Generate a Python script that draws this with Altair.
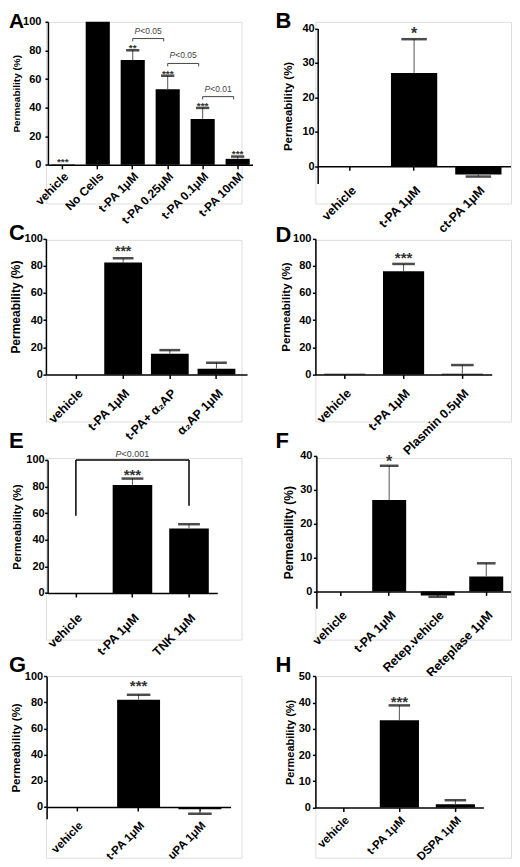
import altair as alt
import pandas as pd

FONT = "Liberation Sans"

# ---- values (mean, SEM, significance marks) ----
A_CATS = ["vehicle", "No Cells", "t-PA 1μM", "t-PA 0.25μM", "t-PA 0.1μM", "t-PA 10nM"]
A_MEAN = [0.3, 100, 73.3, 52.8, 32.1, 4.2]
A_SEM = [0, 0, 6.9, 9.5, 7.7, 1.6]
A_STARS = ["***", "", "**", "***", "***", "***"]
A_P_TEXT = ["<0.05", "<0.05", "<0.01"]
A_P_FROM = ["t-PA 1μM", "t-PA 0.25μM", "t-PA 0.1μM"]
A_P_TO = ["t-PA 0.25μM", "t-PA 0.1μM", "t-PA 10nM"]
A_P_LEVEL = [88.3, 70.9, 47.7]

B_CATS = ["vehicle", "t-PA 1μM", "ct-PA 1μM"]
B_MEAN = [0, 27.1, -2.4]
B_SEM = [0, 9.8, 0.6]
B_STARS = ["", "*", ""]

C_CATS = ["vehicle", "t-PA 1μM", "t-PA+ α₂AP", "α₂AP 1μM"]
C_MEAN = [0, 82.5, 15.2, 4.2]
C_SEM = [0, 3.0, 2.7, 4.4]
C_STARS = ["", "***", "", ""]

D_CATS = ["vehicle", "t-PA 1μM", "Plasmin 0.5μM"]
D_MEAN = [0.5, 76, 0.5]
D_SEM = [0, 5.4, 6.4]
D_STARS = ["", "***", ""]

E_CATS = ["vehicle", "t-PA 1μM", "TNK 1μM"]
E_MEAN = [0, 81.2, 48.5]
E_SEM = [0, 4.8, 3.2]
E_STARS = ["", "***", ""]
E_P_TEXT = ["<0.001"]
E_P_FROM = ["vehicle"]
E_P_TO = ["TNK 1μM"]
E_P_LEVEL = [100]
E_P_LEGS = [58, 65.5]

F_CATS = ["vehicle", "t-PA 1μM", "Retep.vehicle", "Reteplase 1μM"]
F_MEAN = [0, 27.0, -1.2, 4.4]
F_SEM = [0, 10.1, 0.4, 3.9]
F_STARS = ["", "*", "", ""]

G_CATS = ["vehicle", "t-PA 1μM", "uPA 1μM"]
G_MEAN = [0, 82, -1.8]
G_SEM = [0, 3.8, 3.3]
G_STARS = ["", "***", ""]

H_CATS = ["vehicle", "t-PA 1μM", "DSPA 1μM"]
H_MEAN = [0, 33.2, 1.3]
H_SEM = [0, 5.7, 1.5]
H_STARS = ["", "***", ""]

TICKS_100 = [0, 20, 40, 60, 80, 100]
TICKS_40 = [0, 10, 20, 30, 40]
TICKS_50 = [0, 10, 20, 30, 40, 50]

# ---- layout, in page pixels ----
COL_X = [45, 315]
ROW_Y = [20, 238.5, 457, 673.5]
W, H = 196, 182

LAYOUT = {
    "A": dict(col=0, row=0, axis_x=47, x_end=252, top=20, zero=163.3, pin=0.31, pout=0.08,
              lab_gap=5, lab_size=12, ylab_pad=4, title_gap=32, title_size=10,
              star_size=10, star_dy=0.8, letter=(8, 9), letter_size=21),
    "B": dict(col=1, row=0, axis_x=317.3, x_end=510.5, top=26.7, zero=164.7, pin=0.28, pout=0.14,
              lab_gap=17, lab_size=12.5, ylab_pad=0.5, title_gap=30.6, title_size=11.5,
              star_size=16, star_dy=0.2, letter=(275, 9), letter_size=22),
    "C": dict(col=0, row=1, axis_x=45, x_end=246.5, top=237.3, zero=373.3, pin=0.19, pout=0.25,
              lab_gap=11.7, lab_size=12.5, ylab_pad=0.5, title_gap=30, title_size=12,
              star_size=14, star_dy=-2, letter=(8, 222), letter_size=22),
    "D": dict(col=1, row=1, axis_x=315, x_end=491.7, top=237.3, zero=373.3, pin=0.3, pout=0.15,
              lab_gap=11.7, lab_size=12.5, ylab_pad=1.5, title_gap=30, title_size=11.5,
              star_size=15, star_dy=-0.8, letter=(275, 223.5), letter_size=22),
    "E": dict(col=0, row=2, axis_x=46.7, x_end=216.7, top=459, zero=592.3, pin=0.3, pout=0.15,
              lab_gap=17.7, lab_size=12.5, ylab_pad=0.5, title_gap=31.7, title_size=11,
              star_size=15, star_dy=1.6, letter=(8, 430.5), letter_size=22),
    "F": dict(col=1, row=2, axis_x=316, x_end=510.5, top=455, zero=590.7, pin=0.3, pout=0.15,
              lab_gap=16.6, lab_size=12.5, ylab_pad=1.5, title_gap=27.7, title_size=12,
              star_size=16, star_dy=0.9, letter=(275, 430.5), letter_size=22),
    "G": dict(col=0, row=3, axis_x=45.7, x_end=230, top=673.7, zero=804.7, pin=0.3, pout=0.15,
              lab_gap=12, lab_size=11.5, ylab_pad=1, title_gap=32, title_size=11.5,
              star_size=15, star_dy=-3.4, letter=(8, 652), letter_size=22),
    "H": dict(col=1, row=3, axis_x=315, x_end=483.3, top=673.7, zero=805.3, pin=0.3, pout=0.15,
              lab_gap=6, lab_size=11.5, ylab_pad=2, title_gap=26.7, title_size=11,
              star_size=15, star_dy=1.3, letter=(275, 652), letter_size=22),
}


def panel(key, cats, mean, sem, stars, ticks, domain, extra=None):
    L = LAYOUT[key]
    gx, gy = COL_X[L["col"]], ROW_Y[L["row"]]
    top = L["top"] - gy
    zero = L["zero"] - gy
    bottom = zero - domain[0] * (zero - top) / domain[1]
    x0, x1 = L["axis_x"] - gx, L["x_end"] - gx
    step = (x1 - x0) / (len(cats) - L["pin"] + 2 * L["pout"])
    bw = step * (1 - L["pin"])

    xs = alt.Scale(domain=cats, range=[x0, x1], paddingInner=L["pin"], paddingOuter=L["pout"])
    ys = alt.Scale(domain=domain, range=[bottom, top], nice=False, zero=False)
    xa = alt.Axis(title=None, labelAngle=-45, labelFontSize=L["lab_size"],
                  labelFontWeight="bold", labelFont=FONT, labelColor="black", tickSize=4,
                  tickWidth=1.5, tickColor="black", domainWidth=1.5, domainColor="black",
                  labelPadding=L["lab_gap"] - 3.5, offset=zero - H, grid=False)
    ya = alt.Axis(values=ticks, title="Permeability (%)", titleFont=FONT,
                  titleFontSize=L["title_size"], titleFontWeight="bold", titleColor="black",
                  titleX=-L["title_gap"] + 0.57 * L["title_size"],
                  labelFont=FONT, labelFontSize=11, labelFontWeight="bold", labelColor="black",
                  tickSize=3, tickWidth=1.5, tickColor="black", labelPadding=L["ylab_pad"],
                  domainWidth=1.5, domainColor="black", offset=-x0, grid=False)

    def X(field, **kw):
        return alt.X(field, type="nominal", scale=xs, axis=xa, sort=cats, **kw)

    def Y(field):
        return alt.Y(field, type="quantitative", scale=ys, axis=ya)

    df = pd.DataFrame({"cat": cats, "mean": mean, "sem": sem, "star": stars})
    df["end"] = [m - s if m < 0 else m + s for m, s in zip(mean, sem)]
    df["base"] = 0
    err = df[df["sem"] > 0]

    bars = alt.Chart(df).mark_bar(color="black").encode(X("cat"), Y("mean"), y2="base")
    rule = alt.Chart(err).mark_rule(color="#555", strokeWidth=1).encode(X("cat"), Y("mean"), y2="end")
    cap = alt.Chart(err).mark_tick(color="black", thickness=2.5, size=0.55 * bw).encode(X("cat"), Y("end"))
    star = alt.Chart(df).mark_text(baseline="alphabetic", dy=L["star_dy"], fontSize=L["star_size"],
                                   fontWeight="bold", color="#333", font=FONT).encode(
        X("cat"), Y("end"), text="star")
    lx, ly = L["letter"]
    letter = alt.Chart(pd.DataFrame({"t": [key]})).mark_text(
        align="left", baseline="top", fontSize=L["letter_size"], fontWeight="bold",
        color="black", font=FONT
    ).encode(x=alt.value(lx - gx), y=alt.value(ly - gy), text="t")

    layers = [bars, rule, cap, star, letter]
    if extra is not None:
        layers += extra(step, X, Y)
    return alt.layer(*layers).properties(width=W, height=H)


def a_brackets(step, X, Y):
    pdf = pd.DataFrame({"from": A_P_FROM, "to": A_P_TO, "level": A_P_LEVEL, "txt": A_P_TEXT})
    pdf["low"] = pdf["level"] - 2
    pdf["P"] = "P"
    split = (step - 4) / 2 - 8
    return [
        alt.Chart(pdf).mark_rule(color="#444", strokeWidth=1, x2Offset=-4).encode(
            X("from", bandPosition=0.5), alt.X2("to", bandPosition=0.5), Y("level")),
        alt.Chart(pdf).mark_rule(color="#444", strokeWidth=1).encode(X("from"), Y("level"), y2="low"),
        alt.Chart(pdf).mark_rule(color="#444", strokeWidth=1, xOffset=-4).encode(X("to"), Y("level"), y2="low"),
        alt.Chart(pdf).mark_text(align="right", baseline="alphabetic", dx=split, dy=-5, fontSize=8.5,
                                 fontStyle="italic", color="#444", font=FONT).encode(X("from"), Y("level"), text="P"),
        alt.Chart(pdf).mark_text(align="left", baseline="alphabetic", dx=split, dy=-5, fontSize=8.5,
                                 color="#444", font=FONT).encode(X("from"), Y("level"), text="txt"),
    ]


def e_brackets(step, X, Y):
    pdf = pd.DataFrame({"from": E_P_FROM, "to": E_P_TO, "level": E_P_LEVEL, "txt": E_P_TEXT})
    pdf["P"] = "P"
    legs = pd.DataFrame({"cat": E_P_FROM + E_P_TO, "level": E_P_LEVEL * 2, "low": E_P_LEGS})
    split = step - 10.9
    return [
        alt.Chart(pdf).mark_rule(color="black", strokeWidth=1.5).encode(
            X("from", bandPosition=0.5), alt.X2("to", bandPosition=0.5), Y("level")),
        alt.Chart(legs).mark_rule(color="black", strokeWidth=1.5).encode(X("cat"), Y("level"), y2="low"),
        alt.Chart(pdf).mark_text(align="right", baseline="alphabetic", dx=split, dy=-2.5, fontSize=9,
                                 fontStyle="italic", color="#444", font=FONT).encode(X("from"), Y("level"), text="P"),
        alt.Chart(pdf).mark_text(align="left", baseline="alphabetic", dx=split, dy=-2.5, fontSize=9,
                                 color="#444", font=FONT).encode(X("from"), Y("level"), text="txt"),
    ]


panels = [
    panel("A", A_CATS, A_MEAN, A_SEM, A_STARS, TICKS_100, [0, 100], a_brackets),
    panel("B", B_CATS, B_MEAN, B_SEM, B_STARS, TICKS_40, [-5, 40]),
    panel("C", C_CATS, C_MEAN, C_SEM, C_STARS, TICKS_100, [0, 100]),
    panel("D", D_CATS, D_MEAN, D_SEM, D_STARS, TICKS_100, [0, 100]),
    panel("E", E_CATS, E_MEAN, E_SEM, E_STARS, TICKS_100, [0, 100], e_brackets),
    panel("F", F_CATS, F_MEAN, F_SEM, F_STARS, TICKS_40, [-5, 40]),
    panel("G", G_CATS, G_MEAN, G_SEM, G_STARS, TICKS_100, [-9, 100]),
    panel("H", H_CATS, H_MEAN, H_SEM, H_STARS, TICKS_50, [0, 50]),
]

chart = (
    alt.concat(*panels, columns=2, bounds="flush",
               spacing={"row": ROW_Y[1] - ROW_Y[0] - H, "column": COL_X[1] - COL_X[0] - W})
    .properties(padding=0)
    .configure_view(strokeWidth=0)
    .configure(font=FONT)
)

chart.save("out.html", embed_options={"renderer": "svg", "actions": False})
